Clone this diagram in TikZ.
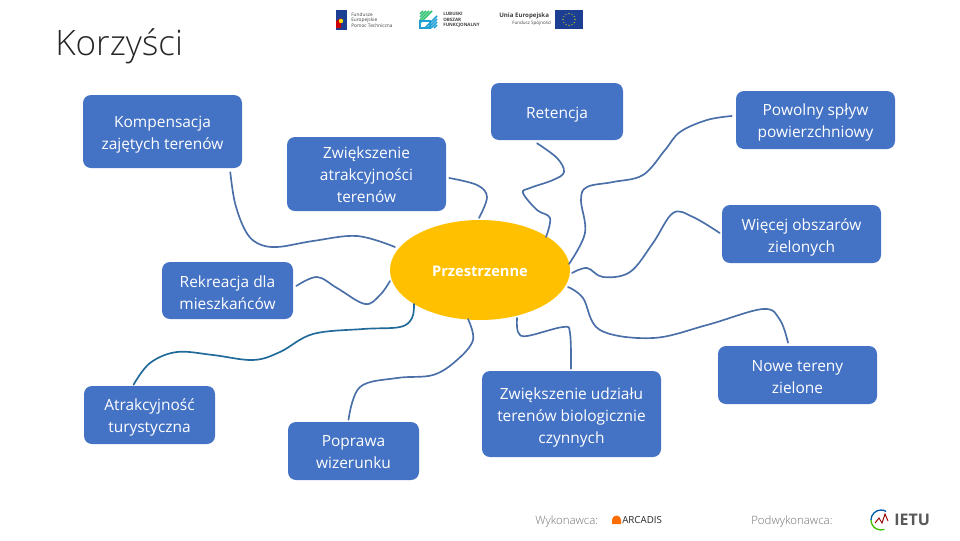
\documentclass[tikz,border=0pt]{standalone}
\usepackage{fontspec}
\usetikzlibrary{shapes.geometric}
\setmainfont{Open Sans}[UprightFont=* Light,BoldFont=* Bold]
\newfontfamily\regularface{Open Sans}
\newcommand{\tup}[1]{\rule{0pt}{#1pt}}
\definecolor{boxblue}{HTML}{4472C4}
\definecolor{edgeblue}{HTML}{4A6FA8}
\definecolor{edgeteal}{HTML}{1F6A99}
\definecolor{sunorange}{HTML}{FFC000}
\definecolor{eublue}{HTML}{1C3F94}
\definecolor{greytext}{HTML}{6E6E6E}
\tikzset{
  topic/.style={draw=none,fill=boxblue,rounded corners=6pt,text=white,align=center,font=\regularface\fontsize{11.6}{16.5}\selectfont,inner sep=0pt},
  link/.style={edgeblue,line width=1.25pt,line cap=round,line join=round},
  credit/.style={text=greytext,font=\fontsize{8.6}{9}\selectfont,anchor=west,inner sep=0pt},
  logotext/.style={text=black!75,anchor=west,inner sep=0pt,align=left},
}
\begin{document}
\begin{tikzpicture}[x=0.75pt,y=-0.75pt]
\useasboundingbox (0,0) rectangle (960,540);
\node[anchor=west,inner sep=0pt,text=black!85,font=\fontsize{26.3}{30}\selectfont] (title) at (55,46) {Korzyści};
% nodes
\node[topic,minimum width=119.25pt,minimum height=54.75pt] (komp) at (162.5,131.5) {\tup{13.5}Kompensacja\\zajętych terenów};
\node[topic,minimum width=99pt,minimum height=42.75pt] (ret) at (557,111.5) {\tup{13.5}Retencja};
\node[topic,minimum width=119.25pt,minimum height=43.5pt] (pow) at (815.5,120) {\tup{12}Powolny spływ\\powierzchniowy};
\node[topic,minimum width=119.25pt,minimum height=55.5pt] (atr) at (366.5,174) {\tup{10.5}Zwiększenie\\atrakcyjności\\terenów};
\node[topic,minimum width=119.25pt,minimum height=43.5pt] (wiec) at (801.5,234) {\tup{13.5}Więcej obszarów\\zielonych};
\node[topic,minimum width=98.25pt,minimum height=42.75pt] (rek) at (227.5,290.5) {\tup{12}Rekreacja dla\\mieszkańców};
\node[topic,minimum width=98.25pt,minimum height=43.5pt] (tur) at (149.5,415) {\tup{12}Atrakcyjność\\turystyczna};
\node[topic,minimum width=98.25pt,minimum height=43.5pt] (wiz) at (353.5,451) {\tup{10.5}Poprawa\\wizerunku};
\node[topic,minimum width=134.25pt,minimum height=64.5pt] (udz) at (571.5,414) {\tup{13.5}Zwiększenie udziału\\terenów biologicznie\\czynnych};
\node[topic,minimum width=119.25pt,minimum height=43.5pt] (now) at (797.5,375) {\tup{12}Nowe tereny\\zielone};
\node[ellipse,fill=sunorange,minimum width=135pt,minimum height=75pt,inner sep=0pt,text=white,font=\fontsize{11}{12}\selectfont\bfseries,execute at begin node=\rule{0pt}{10.5pt}] (sun) at (480,270) {Przestrzenne};
% connectors
\draw[link] plot[smooth,tension=0.6] coordinates {([shift={(-12,4)}]komp.south east) (235,203) (245,230) (257,243) (277,247) (313,241) (357,236) ([shift={(-85,-23)}]sun.center)};
\draw[link] plot[smooth,tension=0.6] coordinates {([shift={(3,-4.5)}]rek.east) (317,277) (337,288) (365,304) (380,295) ([shift={(-90,11)}]sun.center)};
\draw[link,edgeteal] plot[smooth,tension=0.6] coordinates {([shift={(-16,-1)}]tur.north) (150,363) (177,352) (213,355) (253,360) (280,352) (313,334) (363,329) (400,327) (412,318) ([shift={(-66,34)}]sun.center)};
\draw[link] plot[smooth,tension=0.6] coordinates {([shift={(-5,-2)}]wiz.north) (360,387) (397,378) (433,375) (457,360) (473,340) ([shift={(-12,49)}]sun.center)};
\draw[link] plot[smooth,tension=0.6] coordinates {([shift={(3,4)}]atr.east) (477,185) (487,197) ([shift={(-1,-52)}]sun.center)};
\draw[link] plot[smooth,tension=0.6] coordinates {([shift={(-20,3)}]ret.south) (557,158) (564,172) (553,180) (530,188) (523,193) (537,210) (550,218) ([shift={(66,-33)}]sun.center)};
\draw[link] plot[smooth,tension=0.6] coordinates {([shift={(-4,-4)}]pow.west) (707,120) (680,132) (665,150) (643,175) (613,182) (587,187) (581,200) (585,233) ([shift={(89,-6)}]sun.center)};
\draw[link] plot[smooth,tension=0.6] coordinates {([shift={(92,3)}]sun.center) (587,268) (603,277) (630,272) (653,243) (673,213) (693,217) ([shift={(-2,-1)}]wiec.west)};
\draw[link] plot[smooth,tension=0.6] coordinates {([shift={(88,17)}]sun.center) (583,298) (600,330) (653,338) (707,325) (763,309) (780,320) ([shift={(-9.5,-3)}]now.north)};
\draw[link] plot[smooth,tension=0.6] coordinates {([shift={(37,48)}]sun.center) (518,332) (527,336) (563,327) (570,333) ([shift={(-0.5,-2)}]udz.north)};
% footer
\node[credit] (wyk) at (535,522) {Wykonawca:};
\node[credit] (pod) at (751,522) {Podwykonawca:};
\fill[orange!85!red] (612,524) -- (612,520) arc (180:360:4.5) -- (621,524) -- cycle;
\node[logotext,font=\regularface\fontsize{7.3}{7}\selectfont,text=black!85] (arc) at (622,520.5) {ARCADIS};
\node[logotext,font=\fontsize{12}{14}\selectfont\bfseries,text=black!65] (ietu) at (894,520) {IETU};
\draw[line width=1pt,teal!70!blue] (871,520) arc (180:300:10);
\draw[line width=1pt,green!50!olive] (871,520) arc (180:70:10);
\draw[line width=0.7pt,red!60!black] (875,523) -- (879,518) -- (882,523) -- (885,514) -- (888,521);
% header logos
\fill[eublue] (336,10) rectangle (347,30);
\fill[red!80!black] (336,21) -- (341,18) -- (341,28) -- (336,28) -- cycle;
\fill[yellow!80!orange] (341,21) circle (2.2);
\node[logotext,font=\regularface\fontsize{3.6}{4.2}\selectfont] (fe) at (351,20) {Fundusze\\Europejskie\\Pomoc Techniczna};
\foreach \i in {0,...,4} {
  \draw[line width=1.2pt,teal!60!green!80] (420+\i*3,11) -- (420,11+\i*3);
  \draw[line width=1.2pt,cyan!70!teal] (437-\i*3,28) -- (437,28-\i*3);
}
\draw[line width=1.2pt,cyan!70!teal] (420,28) rectangle (430,21);
\node[logotext,font=\fontsize{3.4}{4}\selectfont\bfseries] (lof) at (443,20) {LUBUSKI\\OBSZAR\\FUNKCJONALNY};
\node[logotext,font=\fontsize{4.6}{5}\selectfont\bfseries] (ue) at (499,16) {Unia Europejska};
\node[logotext,font=\regularface\fontsize{3.4}{4}\selectfont] (fs) at (512,23) {Fundusz Spójności};
\fill[eublue] (555,10) rectangle (583,29);
\foreach \a in {0,30,...,330} \fill[yellow] (569,19.5) ++(\a:6) circle (0.55);
\end{tikzpicture}
\end{document}
